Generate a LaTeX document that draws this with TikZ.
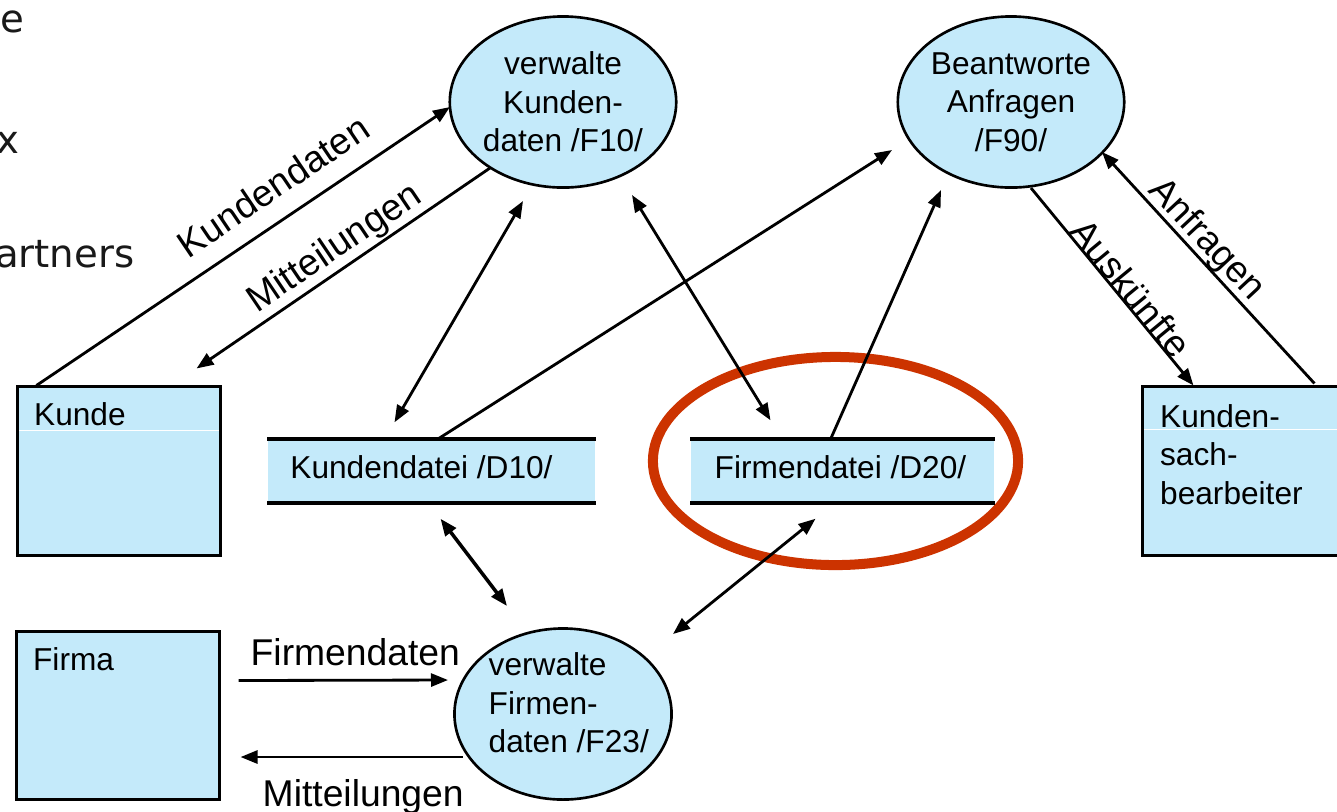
\documentclass[tikz,border=0pt]{standalone}
\usepackage{fontspec}
\setmainfont{Liberation Sans}
\newfontfamily\dfdbgfont{DejaVu Sans}
\usetikzlibrary{shapes.geometric,arrows.meta,calc}
\definecolor{dfdblue}{RGB}{196,234,250}
\definecolor{dfdred}{RGB}{204,51,0}
\newcommand\dfdnodefont{\fontsize{9}{10.95}\selectfont}
\newcommand\dfdlabfont{\fontsize{10.6}{12.5}\selectfont}
\begin{document}
\begin{tikzpicture}[x=0.01cm,y=-0.01cm,
  proc/.style={ellipse, draw, fill=dfdblue, line width=0.75pt, minimum width=2.17cm, minimum height=1.71cm, inner sep=0pt, align=center, font=\dfdnodefont},
  extbox/.style={rectangle, draw, fill=dfdblue, line width=0.85pt, minimum width=2.02cm, minimum height=1.68cm, inner sep=0pt},
  storebox/.style={rectangle, fill=dfdblue, minimum height=0.62cm, inner sep=0pt},
  storeline/.style={line width=1.1pt},
  txt/.style={inner sep=0pt, font=\dfdnodefont, align=left},
  lab/.style={inner sep=0pt, font=\dfdlabfont},
  bg/.style={inner sep=0pt, font=\dfdbgfont\fontsize{11}{13}\selectfont, text=black!90},
  flow/.style={line width=0.8pt, -{Triangle[length=0.17cm, width=0.13cm]}},
  bidir/.style={line width=0.8pt, {Triangle[length=0.17cm, width=0.13cm]}-{Triangle[length=0.17cm, width=0.13cm]}}
]
\useasboundingbox (0,0) rectangle (1337,811);

% background text fragments
\node[bg, anchor=base east] (bgE) at (25,32) {e};
\node[bg, anchor=base east] (bgX) at (20,153) {x};
\node[bg, anchor=base east] (bgP) at (135,267) {artners};

% highlight ellipse
\node[ellipse, draw=dfdred, line width=0.1cm, minimum width=3.65cm, minimum height=2.08cm, inner sep=0pt] (hl) at (835.5,461) {};

% processes
\node[proc] (F10) at (563,102) {verwalte\\Kunden-\\daten /F10/};
\node[proc] (F90) at (1011,102) {Beantworte\\Anfragen\\/F90/};
\node[proc] (F23) at (563,714) {};
\node[txt, anchor=north west] (F23t) at ($(F23.center)+(-75,-62)$) {verwalte\\Firmen-\\daten /F23/};

% external entities
\node[extbox] (kunde) at (119,471) {};
\draw[white, line width=0.4pt] ($(kunde.north west)+(3,45)$) -- ($(kunde.north east)+(-3,45)$);
\node[txt, anchor=base west] (kundet) at ($(kunde.north west)+(17,40)$) {Kunde};
\node[extbox] (firma) at (118,715.5) {};
\node[txt, anchor=base west] (firmat) at ($(firma.north west)+(17,41)$) {Firma};
\node[extbox] (ksb) at (1244,471) {};
\draw[white, line width=0.4pt] ($(ksb.north west)+(3,44)$) -- ($(ksb.north east)+(-3,44)$);
\node[txt, anchor=north west] (ksbt) at ($(ksb.north west)+(18,18)$) {Kunden-\\sach-\\bearbeiter};

% data stores
\node[storebox, minimum width=3.27cm] (kd) at (431.5,471) {};
\draw[storeline] (kd.north west) -- (kd.north east);
\draw[storeline] (kd.south west) -- (kd.south east);
\node[txt, anchor=base] (kdt) at ($(kd.center)+(-10,7)$) {Kundendatei /D10/};
\node[storebox, minimum width=3.03cm] (fd) at (842.5,471) {};
\draw[storeline] (fd.north west) -- (fd.north east);
\draw[storeline] (fd.south west) -- (fd.south east);
\node[txt, anchor=base] (fdt) at ($(fd.center)+(-2,7)$) {Firmendatei /D20/};

% connectors
\draw[flow] ($(kunde.north west)+(20,0)$) -- ($(F10.center)+(-113,5)$);
\draw[flow] ($(F10.center)+(-73,66)$) -- ($(kunde.north east)+(-25,-17)$);
\draw[bidir] ($(kd.north)+(-37,-17)$) -- ($(F10.center)+(-40,99)$);
\draw[bidir] ($(F10.center)+(69,93)$) -- ($(fd.north)+(-72,-19)$);
\draw[flow] ($(kd.north)+(6,0)$) -- ($(F90.center)+(-119,48)$);
\draw[flow] ($(fd.north)+(-12,0)$) -- ($(F90.center)+(-70,88)$);
\draw[flow] ($(F90.center)+(20,86)$) -- ($(ksb.north west)+(52,0)$);
\draw[flow] ($(ksb.north west)+(173,-2)$) -- ($(F90.center)+(91,50)$);
\draw[bidir, line width=1pt] ($(kd.south)+(9,16)$) -- ($(F23.center)+(-56,-108)$);
\draw[bidir] ($(F23.center)+(110,-80)$) -- ($(fd.south)+(-27,16)$);
\draw[flow] ($(firma.east)+(18,-35)$) -- ($(F23.center)+(-115,-34)$);
\draw[flow] ($(F23.center)+(-100,43)$) -- ($(firma.east)+(20,41.5)$);

% labels
\node[lab, rotate=34] (lkd) at (273,186) {Kundendaten};
\node[lab, rotate=34] (lmi1) at (335,249) {Mitteilungen};
\node[lab, rotate=-50.5] (lau) at (1131,288) {Auskünfte};
\node[lab, rotate=-47] (lan) at (1206,240) {Anfragen};
\node[lab, anchor=base west] (lfd) at (250,665) {Firmendaten};
\node[lab, anchor=base west] (lmi2) at (262,806) {Mitteilungen};
\end{tikzpicture}
\end{document}
